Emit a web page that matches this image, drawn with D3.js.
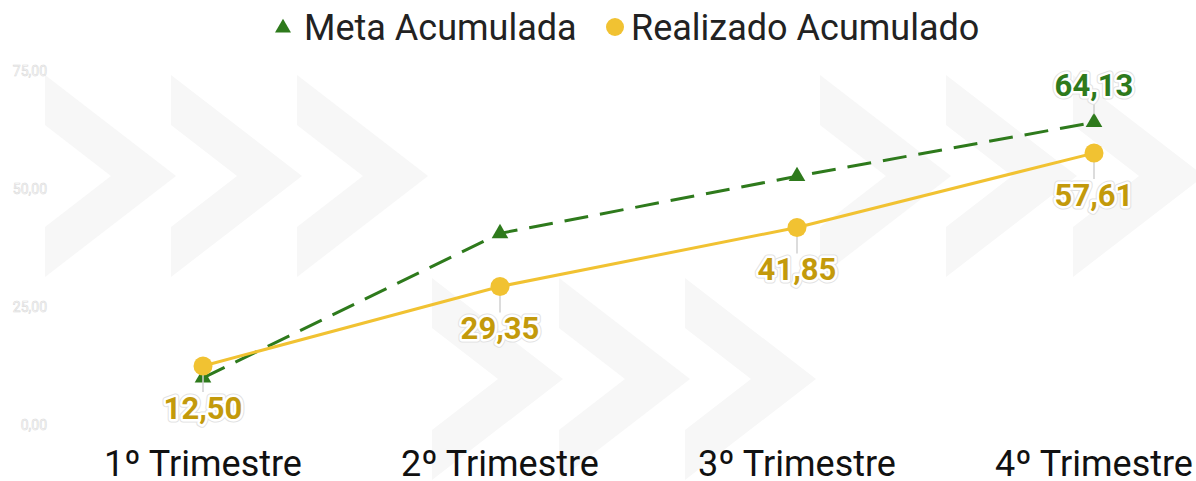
<!DOCTYPE html>
<html>
<head>
<meta charset="utf-8">
<script src="https://cdn.jsdelivr.net/npm/d3@7"></script>
<style>
  body { margin: 0; background: #ffffff; }
  svg { display: block; font-family: Roboto, "Noto Sans", sans-serif; }
</style>
</head>
<body>
<div id="chart"></div>
<script>

// data
var categories = ["1º Trimestre", "2º Trimestre", "3º Trimestre", "4º Trimestre"];
var meta = [10.0, 40.6, 52.7, 64.13];
var realizado = [12.50, 29.35, 41.85, 57.61];
var yTicks = [0, 25, 50, 75];
var seriesNames = ["Meta Acumulada", "Realizado Acumulado"];

var w = 1196,
    h = 481;

var green = "#2e7a1c",
    yellow = "#f1c232",
    gold = "#c39a0b";

var fmt = function(v) { return d3.format(".2f")(v).replace(".", ","); };

var svg = d3.select("#chart")
	.append("svg")
	.attr("width", w)
	.attr("height", h);

// background chevrons (decoration)
var chevTop = [45, 171, 297, 820, 946, 1073],
    chevBottom = [432, 559, 685];

function chevron(x0, y0) {
	return "M" + x0 + "," + y0 +
		"L" + (x0 + 131) + "," + (y0 + 101) +
		"L" + x0 + "," + (y0 + 202) +
		"L" + x0 + "," + (y0 + 152) +
		"L" + (x0 + 66) + "," + (y0 + 101) +
		"L" + x0 + "," + (y0 + 50) + "Z";
}

var bg = svg.append("g");
chevTop.forEach(function(x0) {
	bg.append("path").attr("d", chevron(x0, 75)).style("fill", "#f7f7f7");
});
chevBottom.forEach(function(x0) {
	bg.append("path").attr("d", chevron(x0, 278)).style("fill", "#f7f7f7");
});

var x = d3.scalePoint()
	.domain(categories)
	.range([203, 1094]);

var y = d3.scaleLinear()
	.domain([0, 75])
	.range([425, 71]);

// y axis (hollow labels)
svg.append("g")
	.selectAll("text")
	.data(yTicks)
	.enter().append("text")
	.attr("x", 47)
	.attr("y", function(d) { return y(d); })
	.attr("dy", "0.35em")
	.attr("text-anchor", "end")
	.style("font-size", "14px")
	.style("fill", "#ffffff")
	.style("stroke", "#d8d8d8")
	.style("stroke-width", 0.6)
	.text(fmt);

// x axis labels
svg.append("g")
	.selectAll("text")
	.data(categories)
	.enter().append("text")
	.attr("x", function(d) { return x(d); })
	.attr("y", 476)
	.attr("text-anchor", "middle")
	.style("font-size", "36px")
	.style("fill", "#111111")
	.text(function(d) { return d; });

var line = d3.line()
	.x(function(d, i) { return x(categories[i]); })
	.y(function(d) { return y(d); });

// meta line
svg.append("path")
	.datum(meta)
	.attr("d", line)
	.style("fill", "none")
	.style("stroke", green)
	.style("stroke-width", 3)
	.style("stroke-dasharray", "24,12");

// realizado line
svg.append("path")
	.datum(realizado)
	.attr("d", line)
	.style("fill", "none")
	.style("stroke", yellow)
	.style("stroke-width", 3);

var tri = d3.symbol().type(d3.symbolTriangle).size(120);

svg.append("g")
	.selectAll("path")
	.data(meta)
	.enter().append("path")
	.attr("d", tri)
	.attr("transform", function(d, i) { return "translate(" + x(categories[i]) + "," + y(d) + ")"; })
	.style("fill", green);

// leader lines
svg.append("line")
	.attr("x1", x(categories[3])).attr("x2", x(categories[3]))
	.attr("y1", y(meta[3]) - 8).attr("y2", y(meta[3]) - 26)
	.style("stroke", "#d0d0d0").style("stroke-width", 1.5);

svg.append("g")
	.selectAll("line")
	.data(realizado)
	.enter().append("line")
	.attr("x1", function(d, i) { return x(categories[i]); })
	.attr("x2", function(d, i) { return x(categories[i]); })
	.attr("y1", function(d) { return y(d) + 9; })
	.attr("y2", function(d) { return y(d) + 26; })
	.style("stroke", "#d0d0d0")
	.style("stroke-width", 1.5);

svg.append("g")
	.selectAll("circle")
	.data(realizado)
	.enter().append("circle")
	.attr("cx", function(d, i) { return x(categories[i]); })
	.attr("cy", function(d) { return y(d); })
	.attr("r", 9.5)
	.style("fill", yellow);

// data labels
function haloLabel(g, tx, ty, txt, color) {
	g.append("text")
		.attr("x", tx).attr("y", ty).attr("dy", "0.35em")
		.attr("text-anchor", "middle")
		.style("font-size", "31px").style("font-weight", "bold")
		.style("fill", "none").style("stroke", "#e2e2e2").style("stroke-width", 7)
		.style("stroke-linejoin", "round")
		.text(txt);
	g.append("text")
		.attr("x", tx).attr("y", ty).attr("dy", "0.35em")
		.attr("text-anchor", "middle")
		.style("font-size", "31px").style("font-weight", "bold")
		.style("fill", "none").style("stroke", "#ffffff").style("stroke-width", 5)
		.style("stroke-linejoin", "round")
		.text(txt);
	g.append("text")
		.attr("x", tx).attr("y", ty).attr("dy", "0.35em")
		.attr("text-anchor", "middle")
		.style("font-size", "31px").style("font-weight", "bold")
		.style("fill", color)
		.text(txt);
}

var labels = svg.append("g");
realizado.forEach(function(d, i) {
	haloLabel(labels, x(categories[i]), y(d) + 42, fmt(d), gold);
});
haloLabel(labels, x(categories[3]), y(meta[3]) - 37, fmt(meta[3]), green);

// legend
var legend = svg.append("g");
legend.append("path")
	.attr("d", d3.symbol().type(d3.symbolTriangle).size(110))
	.attr("transform", "translate(283,28)")
	.style("fill", green);
legend.append("text")
	.attr("x", 304).attr("y", 40)
	.style("font-size", "36px").style("fill", "#222222")
	.text(seriesNames[0]);
legend.append("circle")
	.attr("cx", 615).attr("cy", 27).attr("r", 9)
	.style("fill", yellow);
legend.append("text")
	.attr("x", 631).attr("y", 40)
	.style("font-size", "36px").style("fill", "#222222")
	.text(seriesNames[1]);

</script>
</body>
</html>
